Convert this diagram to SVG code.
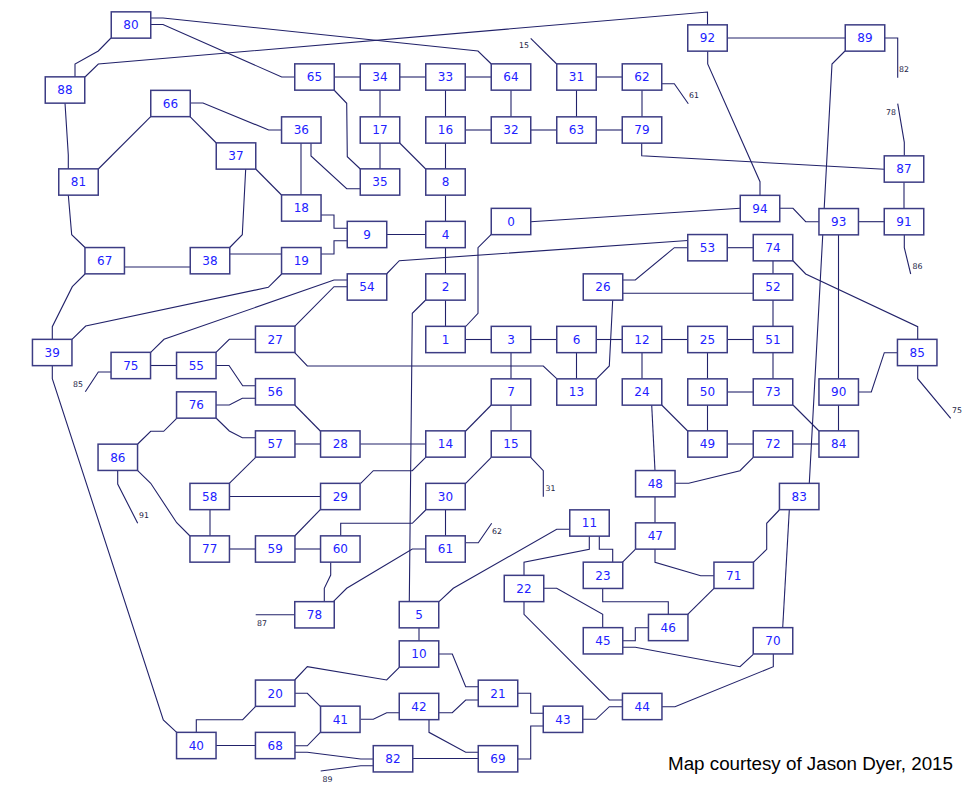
<svg xmlns="http://www.w3.org/2000/svg" width="979" height="789" viewBox="0 0 979 789">
<style>
.c polyline{fill:none;stroke:#22226a;stroke-width:1.1}
.b{fill:#fff;stroke:#3c3c84;stroke-width:1.5}
.t{font-family:"DejaVu Sans",Verdana,sans-serif;font-size:12px;fill:#2222ff;text-anchor:middle}
.s{font-family:"DejaVu Sans",Verdana,sans-serif;font-size:7.8px;fill:#222244}
.ttl{font-family:"Liberation Sans",Arial,sans-serif;font-size:18.8px;fill:#000}
</style>
<rect width="979" height="789" fill="#fff"/>
<g id="connectors" class="c">
<polyline points="151,18 163,18 478,51 491.3,64"/>
<polyline points="151,24.5 163,24.5 281.7,77 294.7,77"/>
<polyline points="85,77 98.3,64 707.5,12 707.5,25"/>
<polyline points="111,38 98.3,51 75,64 75,77"/>
<polyline points="65,103 68.3,155 68.3,169"/>
<polyline points="98.3,169 150.7,116.7"/>
<polyline points="190,103 203,103 268.7,130 281.5,130"/>
<polyline points="190,116.7 216.3,143"/>
<polyline points="255.7,169 281.5,195"/>
<polyline points="245.7,169 242.3,234.7 229.7,247.5"/>
<polyline points="301,143 301,195"/>
<polyline points="311,143 311,156 346.7,188.7 360.3,188.7"/>
<polyline points="334,90 346.7,103.3 347.3,156.7 360.3,169"/>
<polyline points="68.3,195 71.7,234.7 85,247.5"/>
<polyline points="124.5,267 190.3,267"/>
<polyline points="229.7,254 281.5,254"/>
<polyline points="321,215 334,215 334,228.3 347.3,228.3"/>
<polyline points="321,254 334,254 334,240.7 347.3,240.7"/>
<polyline points="386.7,234.5 425.7,234.5"/>
<polyline points="334,77 360,77"/>
<polyline points="400,77 425.7,77"/>
<polyline points="465.3,77 491.3,77"/>
<polyline points="596.3,77 622.3,77"/>
<polyline points="380,90 380,117"/>
<polyline points="380,143 380,169"/>
<polyline points="445.5,90 445.5,117"/>
<polyline points="511,90 511,117"/>
<polyline points="576.5,90 576.5,117"/>
<polyline points="642,90 642,117"/>
<polyline points="465.3,130 491.3,130"/>
<polyline points="530.7,130 556.7,130"/>
<polyline points="596.3,130 622.3,130"/>
<polyline points="399.7,143 425.7,169"/>
<polyline points="445.5,143 445.5,169"/>
<polyline points="445.5,195 445.5,221"/>
<polyline points="445.5,247.5 445.5,274"/>
<polyline points="445.5,300 445.5,326.5"/>
<polyline points="491.3,234.3 478,247.7 478,313.3 465.7,326.5"/>
<polyline points="386.5,274 399.3,260.7 687.7,240.5"/>
<polyline points="530.7,221.7 740.3,208.3"/>
<polyline points="641.7,143 641.7,155.7 884.3,169.3"/>
<polyline points="661.7,83.7 674.3,83.7 688.3,103.7"/>
<polyline points="530.7,38.3 556.7,64"/>
<polyline points="727.3,38 845,38"/>
<polyline points="884.7,38 897.7,38 897.7,77.7"/>
<polyline points="897.7,103.7 904.3,142.3 904.3,155.7"/>
<polyline points="904,182.3 904,208.5"/>
<polyline points="845,51 832,64 809.3,483.3"/>
<polyline points="707.7,51 707.7,64 760,181.7 760,195.3"/>
<polyline points="779.7,208.3 793,208.3 805.7,221.7 819,221.7"/>
<polyline points="858.3,221.7 884.3,221.7"/>
<polyline points="904.3,234.7 904.3,247.7 910.7,274"/>
<polyline points="727.3,247.7 753.3,247.7"/>
<polyline points="687.7,247.7 674.3,247.7 635.3,280 622.3,280"/>
<polyline points="838.5,234.7 838.5,378.7"/>
<polyline points="773,260.7 773,274"/>
<polyline points="792.7,260.5 805.7,274 917.7,326.7 917.7,339.3"/>
<polyline points="85,274 72.3,286.7 52.3,326.7 52.3,339.3"/>
<polyline points="281.7,274 268.3,287.3 85.7,326 72,339.3"/>
<polyline points="347.3,280 334,280 164,339.3 150.7,352.3"/>
<polyline points="347.3,286.7 334,286.7 294.7,326.3"/>
<polyline points="52.3,365.7 52.3,378.7 163.3,720 176.7,732.3"/>
<polyline points="111.3,372 98.3,372 85.3,391.7"/>
<polyline points="150.3,365.5 176.7,365.5"/>
<polyline points="216,352.3 229.3,339.3 255.7,339.3"/>
<polyline points="294.7,352.7 307.3,366 543.3,366 556.7,378.7"/>
<polyline points="216,365.5 229,365.5 242.7,385.7 255.7,385.7"/>
<polyline points="216,405 229.3,405 242.3,398.3 255.7,398.3"/>
<polyline points="216,418 229.3,431 242.3,437.7 255.7,437.7"/>
<polyline points="294.7,405 320.3,431"/>
<polyline points="294.7,444 320.3,444"/>
<polyline points="176.7,418.3 163.7,431.3 150.7,431.3 137.7,444"/>
<polyline points="117.7,470.7 117.7,484 137.7,523.3"/>
<polyline points="137.7,470.7 150.7,483.3 176.7,522.7 190,536"/>
<polyline points="255.7,457.3 229.3,483.3"/>
<polyline points="229.3,496.5 320.3,496.5"/>
<polyline points="210,509.7 210,536"/>
<polyline points="425.7,300 412.3,313.3 409.3,601.7"/>
<polyline points="465.3,339.5 491.3,339.5"/>
<polyline points="530.7,339.5 556.7,339.5"/>
<polyline points="596.3,339.5 622.3,339.5"/>
<polyline points="612.7,300 609.3,366 596.7,378.7"/>
<polyline points="622.3,293.3 753.3,293.3"/>
<polyline points="511,352.7 511,378.7"/>
<polyline points="576.5,352.7 576.5,378.7"/>
<polyline points="642,352.7 642,378.7"/>
<polyline points="491.3,405 465.7,431"/>
<polyline points="511,405 511,431"/>
<polyline points="360.3,444 425.7,444"/>
<polyline points="425.7,457.3 412.3,470.7 373.3,470.7 360.7,483.3"/>
<polyline points="491.3,457.3 465.7,483.3"/>
<polyline points="530.7,457.3 543.3,470.7 543.3,496.7"/>
<polyline points="425.7,510 412.3,523.3 340.7,523.3 340.7,536"/>
<polyline points="445.5,509.7 445.5,536"/>
<polyline points="465.7,542.7 478.3,542.7 491.7,523.3"/>
<polyline points="425.7,549 412.3,549 346.7,588.3 333.3,601.7"/>
<polyline points="661.7,339.5 687.7,339.5"/>
<polyline points="727.3,339.5 753.3,339.5"/>
<polyline points="773,300 773,326.5"/>
<polyline points="707.5,352.7 707.5,378.7"/>
<polyline points="773,352.7 773,378.7"/>
<polyline points="727.3,392 753.3,392"/>
<polyline points="707.5,405 707.5,431"/>
<polyline points="727.3,444 753.3,444"/>
<polyline points="793,444 819,444"/>
<polyline points="838.5,405 838.5,431"/>
<polyline points="858.3,392 871.3,392 884.3,352.7 897.3,352.7"/>
<polyline points="917.7,365.7 917.7,378.7 950.7,418.3"/>
<polyline points="793,405 819,431"/>
<polyline points="661.7,405 687.7,431"/>
<polyline points="651.7,405 655,470.7"/>
<polyline points="753.3,457.3 740,470.7 688.7,483.3 675,483.3"/>
<polyline points="655,496.7 655,523"/>
<polyline points="320.3,509.7 294.7,536"/>
<polyline points="229.3,549 255.7,549"/>
<polyline points="294.7,549 320.3,549"/>
<polyline points="330.7,562.3 330.7,575 324.3,588.3 324.3,601.7"/>
<polyline points="255.7,614.7 294.5,614.7"/>
<polyline points="255.7,706.3 242.7,719.7 196.3,719.7 196.3,732.3"/>
<polyline points="216,745.5 255.7,745.5"/>
<polyline points="294.7,680 307.3,666.7 386.7,680 399.3,667.3"/>
<polyline points="294.7,693.3 307.3,693.3 320.3,706.3"/>
<polyline points="294.7,745.8 307.3,745.8 320.3,732.3"/>
<polyline points="294.7,752.3 307.3,752.3 360.7,759 373.3,759"/>
<polyline points="320.7,771 360.7,765.7 373.3,765.7"/>
<polyline points="570,529.3 556.7,529.3 453.3,588.3 439,601.7"/>
<polyline points="589.3,536 589.3,549.3 524,562.3 524,575.7"/>
<polyline points="599.3,536 599.3,549.3 612.7,549.3 612.7,562.3"/>
<polyline points="635.3,549.3 622.3,562.3"/>
<polyline points="602.7,588.3 602.7,601.7 668.3,601.7 668.3,614.3"/>
<polyline points="543.3,588.3 556.7,588.3 602.7,614.3 602.7,627.7"/>
<polyline points="622.3,640.7 635.3,640.7 635.3,627.7 648.3,627.7"/>
<polyline points="622.3,647.3 635.3,647.3 740,666.7 753.3,654.3"/>
<polyline points="524,601.7 524,614.3 609.3,700 622.3,700"/>
<polyline points="419,627.7 419,640.7"/>
<polyline points="439,654 452.3,654 465.7,686.7 478.3,686.7"/>
<polyline points="360.7,719.3 373.3,719.3 386.7,712.7 399.3,712.7"/>
<polyline points="439,712.7 452.3,712.7 465.7,700 478.3,700"/>
<polyline points="429,719.7 429,732.3 465.7,752.3 478.3,752.3"/>
<polyline points="412.7,758.5 478.3,758.5"/>
<polyline points="517.7,693.3 530.7,693.3 530.7,713.3 543.3,713.3"/>
<polyline points="517.7,759 530.7,759 530.7,726 543.3,726"/>
<polyline points="583,719.3 596,719.3 609.3,706.7 622.3,706.7"/>
<polyline points="662,706.7 675,706.7 773.3,666.7 773.3,654"/>
<polyline points="789.3,509.7 782.7,627.7"/>
<polyline points="779.3,510 766.7,523.3 766.7,549.3 753.3,562.3"/>
<polyline points="655,549 655,562.3 700.7,575.7 714,575.7"/>
<polyline points="714,588.3 687.7,614.3"/>
</g>
<defs>
<rect id="box" class="b" x="-19.75" y="-13.15" width="39.5" height="26.3"/>
</defs>
<g id="nodes">
<g id="n80" transform="translate(131,25)"><use href="#box"/><text class="t" y="4.3">80</text></g>
<g id="n92" transform="translate(707.5,38)"><use href="#box"/><text class="t" y="4.3">92</text></g>
<g id="n89" transform="translate(865,38)"><use href="#box"/><text class="t" y="4.3">89</text></g>
<g id="n88" transform="translate(65,90)"><use href="#box"/><text class="t" y="4.3">88</text></g>
<g id="n65" transform="translate(314.5,77)"><use href="#box"/><text class="t" y="4.3">65</text></g>
<g id="n34" transform="translate(380,77)"><use href="#box"/><text class="t" y="4.3">34</text></g>
<g id="n33" transform="translate(445.5,77)"><use href="#box"/><text class="t" y="4.3">33</text></g>
<g id="n64" transform="translate(511,77)"><use href="#box"/><text class="t" y="4.3">64</text></g>
<g id="n31" transform="translate(576.5,77)"><use href="#box"/><text class="t" y="4.3">31</text></g>
<g id="n62" transform="translate(642,77)"><use href="#box"/><text class="t" y="4.3">62</text></g>
<g id="n66" transform="translate(170.5,103.5)"><use href="#box"/><text class="t" y="4.3">66</text></g>
<g id="n36" transform="translate(301.3,130)"><use href="#box"/><text class="t" y="4.3">36</text></g>
<g id="n17" transform="translate(380,130)"><use href="#box"/><text class="t" y="4.3">17</text></g>
<g id="n16" transform="translate(445.5,130)"><use href="#box"/><text class="t" y="4.3">16</text></g>
<g id="n32" transform="translate(511,130)"><use href="#box"/><text class="t" y="4.3">32</text></g>
<g id="n63" transform="translate(576.5,130)"><use href="#box"/><text class="t" y="4.3">63</text></g>
<g id="n79" transform="translate(642,130)"><use href="#box"/><text class="t" y="4.3">79</text></g>
<g id="n37" transform="translate(236,156)"><use href="#box"/><text class="t" y="4.3">37</text></g>
<g id="n87" transform="translate(904,169)"><use href="#box"/><text class="t" y="4.3">87</text></g>
<g id="n81" transform="translate(78.5,182)"><use href="#box"/><text class="t" y="4.3">81</text></g>
<g id="n35" transform="translate(380,182)"><use href="#box"/><text class="t" y="4.3">35</text></g>
<g id="n8" transform="translate(445.5,182)"><use href="#box"/><text class="t" y="4.3">8</text></g>
<g id="n18" transform="translate(301.3,208)"><use href="#box"/><text class="t" y="4.3">18</text></g>
<g id="n94" transform="translate(760,208.5)"><use href="#box"/><text class="t" y="4.3">94</text></g>
<g id="n0" transform="translate(511,221.5)"><use href="#box"/><text class="t" y="4.3">0</text></g>
<g id="n93" transform="translate(838.7,221.7)"><use href="#box"/><text class="t" y="4.3">93</text></g>
<g id="n91" transform="translate(904,221.7)"><use href="#box"/><text class="t" y="4.3">91</text></g>
<g id="n9" transform="translate(367,234.5)"><use href="#box"/><text class="t" y="4.3">9</text></g>
<g id="n4" transform="translate(445.5,234.5)"><use href="#box"/><text class="t" y="4.3">4</text></g>
<g id="n53" transform="translate(707.5,247.7)"><use href="#box"/><text class="t" y="4.3">53</text></g>
<g id="n74" transform="translate(773,247.7)"><use href="#box"/><text class="t" y="4.3">74</text></g>
<g id="n67" transform="translate(104.7,260.7)"><use href="#box"/><text class="t" y="4.3">67</text></g>
<g id="n38" transform="translate(210,260.7)"><use href="#box"/><text class="t" y="4.3">38</text></g>
<g id="n19" transform="translate(301.3,260.7)"><use href="#box"/><text class="t" y="4.3">19</text></g>
<g id="n54" transform="translate(367,287)"><use href="#box"/><text class="t" y="4.3">54</text></g>
<g id="n2" transform="translate(445.5,287)"><use href="#box"/><text class="t" y="4.3">2</text></g>
<g id="n26" transform="translate(603,287)"><use href="#box"/><text class="t" y="4.3">26</text></g>
<g id="n52" transform="translate(773,287)"><use href="#box"/><text class="t" y="4.3">52</text></g>
<g id="n27" transform="translate(275.2,339.3)"><use href="#box"/><text class="t" y="4.3">27</text></g>
<g id="n1" transform="translate(445.5,339.5)"><use href="#box"/><text class="t" y="4.3">1</text></g>
<g id="n3" transform="translate(511,339.5)"><use href="#box"/><text class="t" y="4.3">3</text></g>
<g id="n6" transform="translate(576.5,339.5)"><use href="#box"/><text class="t" y="4.3">6</text></g>
<g id="n12" transform="translate(642,339.5)"><use href="#box"/><text class="t" y="4.3">12</text></g>
<g id="n25" transform="translate(707.5,339.5)"><use href="#box"/><text class="t" y="4.3">25</text></g>
<g id="n51" transform="translate(773,339.5)"><use href="#box"/><text class="t" y="4.3">51</text></g>
<g id="n39" transform="translate(52.2,352.5)"><use href="#box"/><text class="t" y="4.3">39</text></g>
<g id="n85" transform="translate(917.2,352.5)"><use href="#box"/><text class="t" y="4.3">85</text></g>
<g id="n75" transform="translate(130.8,365.5)"><use href="#box"/><text class="t" y="4.3">75</text></g>
<g id="n55" transform="translate(196.3,365.5)"><use href="#box"/><text class="t" y="4.3">55</text></g>
<g id="n56" transform="translate(275.2,391.8)"><use href="#box"/><text class="t" y="4.3">56</text></g>
<g id="n7" transform="translate(511,392)"><use href="#box"/><text class="t" y="4.3">7</text></g>
<g id="n13" transform="translate(576.5,392)"><use href="#box"/><text class="t" y="4.3">13</text></g>
<g id="n24" transform="translate(642,392)"><use href="#box"/><text class="t" y="4.3">24</text></g>
<g id="n50" transform="translate(707.5,392)"><use href="#box"/><text class="t" y="4.3">50</text></g>
<g id="n73" transform="translate(773,392)"><use href="#box"/><text class="t" y="4.3">73</text></g>
<g id="n90" transform="translate(838.7,392)"><use href="#box"/><text class="t" y="4.3">90</text></g>
<g id="n76" transform="translate(196.3,405)"><use href="#box"/><text class="t" y="4.3">76</text></g>
<g id="n57" transform="translate(275.2,444)"><use href="#box"/><text class="t" y="4.3">57</text></g>
<g id="n28" transform="translate(340.3,444)"><use href="#box"/><text class="t" y="4.3">28</text></g>
<g id="n14" transform="translate(445.5,444)"><use href="#box"/><text class="t" y="4.3">14</text></g>
<g id="n15" transform="translate(511,444)"><use href="#box"/><text class="t" y="4.3">15</text></g>
<g id="n49" transform="translate(707.5,444)"><use href="#box"/><text class="t" y="4.3">49</text></g>
<g id="n72" transform="translate(773,444)"><use href="#box"/><text class="t" y="4.3">72</text></g>
<g id="n84" transform="translate(838.7,444)"><use href="#box"/><text class="t" y="4.3">84</text></g>
<g id="n86" transform="translate(117.8,457.3)"><use href="#box"/><text class="t" y="4.3">86</text></g>
<g id="n48" transform="translate(655.3,483.7)"><use href="#box"/><text class="t" y="4.3">48</text></g>
<g id="n58" transform="translate(209.7,496.5)"><use href="#box"/><text class="t" y="4.3">58</text></g>
<g id="n29" transform="translate(340.3,496.5)"><use href="#box"/><text class="t" y="4.3">29</text></g>
<g id="n30" transform="translate(445.5,496.5)"><use href="#box"/><text class="t" y="4.3">30</text></g>
<g id="n83" transform="translate(799.2,496.5)"><use href="#box"/><text class="t" y="4.3">83</text></g>
<g id="n11" transform="translate(589.5,523)"><use href="#box"/><text class="t" y="4.3">11</text></g>
<g id="n47" transform="translate(655.3,536)"><use href="#box"/><text class="t" y="4.3">47</text></g>
<g id="n77" transform="translate(209.7,549)"><use href="#box"/><text class="t" y="4.3">77</text></g>
<g id="n59" transform="translate(275.2,549)"><use href="#box"/><text class="t" y="4.3">59</text></g>
<g id="n60" transform="translate(340.3,549)"><use href="#box"/><text class="t" y="4.3">60</text></g>
<g id="n61" transform="translate(445.5,549)"><use href="#box"/><text class="t" y="4.3">61</text></g>
<g id="n23" transform="translate(603,575.3)"><use href="#box"/><text class="t" y="4.3">23</text></g>
<g id="n71" transform="translate(733.7,575.3)"><use href="#box"/><text class="t" y="4.3">71</text></g>
<g id="n22" transform="translate(524,588.5)"><use href="#box"/><text class="t" y="4.3">22</text></g>
<g id="n78" transform="translate(314.5,614.8)"><use href="#box"/><text class="t" y="4.3">78</text></g>
<g id="n5" transform="translate(419,614.7)"><use href="#box"/><text class="t" y="4.3">5</text></g>
<g id="n46" transform="translate(668.2,627.5)"><use href="#box"/><text class="t" y="4.3">46</text></g>
<g id="n45" transform="translate(603,640.8)"><use href="#box"/><text class="t" y="4.3">45</text></g>
<g id="n70" transform="translate(773,640.8)"><use href="#box"/><text class="t" y="4.3">70</text></g>
<g id="n10" transform="translate(419,654)"><use href="#box"/><text class="t" y="4.3">10</text></g>
<g id="n20" transform="translate(275.2,693.2)"><use href="#box"/><text class="t" y="4.3">20</text></g>
<g id="n21" transform="translate(498,693.3)"><use href="#box"/><text class="t" y="4.3">21</text></g>
<g id="n42" transform="translate(419,706.5)"><use href="#box"/><text class="t" y="4.3">42</text></g>
<g id="n44" transform="translate(642.2,706.5)"><use href="#box"/><text class="t" y="4.3">44</text></g>
<g id="n41" transform="translate(340.3,719.3)"><use href="#box"/><text class="t" y="4.3">41</text></g>
<g id="n43" transform="translate(563,719.3)"><use href="#box"/><text class="t" y="4.3">43</text></g>
<g id="n40" transform="translate(196.3,745.5)"><use href="#box"/><text class="t" y="4.3">40</text></g>
<g id="n68" transform="translate(275.2,745.5)"><use href="#box"/><text class="t" y="4.3">68</text></g>
<g id="n82" transform="translate(393,758.8)"><use href="#box"/><text class="t" y="4.3">82</text></g>
<g id="n69" transform="translate(498,758.8)"><use href="#box"/><text class="t" y="4.3">69</text></g>
</g>
<g id="exit-labels">
<text class="s" x="529" y="48" text-anchor="end">15</text>
<text class="s" x="689" y="98">61</text>
<text class="s" x="899" y="72">82</text>
<text class="s" x="886" y="115">78</text>
<text class="s" x="912.5" y="269">86</text>
<text class="s" x="952" y="413">75</text>
<text class="s" x="73" y="387">85</text>
<text class="s" x="139" y="518">91</text>
<text class="s" x="545.5" y="491">31</text>
<text class="s" x="492" y="534">62</text>
<text class="s" x="257" y="626">87</text>
<text class="s" x="322.5" y="782">89</text>
</g>
<text class="ttl" x="668" y="770">Map courtesy of Jason Dyer, 2015</text>
</svg>
